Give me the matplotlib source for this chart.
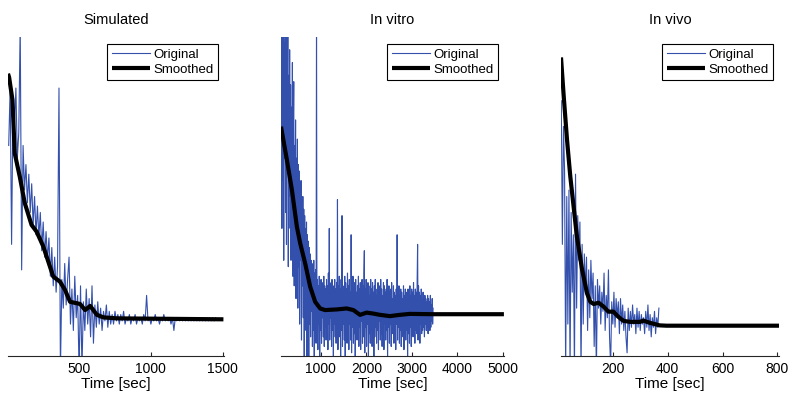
import numpy as np
import matplotlib
matplotlib.use("Agg")
import matplotlib.pyplot as plt

plt.rcParams['font.family'] = ['Liberation Sans', 'DejaVu Sans']

titles = ["Simulated", "In vitro", "In vivo"]
xlabel = "Time [sec]"
legend_labels = ["Original", "Smoothed"]

# ---------------- Simulated ----------------
sim_orig = [66, 84, 35, 80, 72, 84, 62, 70, 104, 27,
            66, 52, 60, 48, 57, 45, 54, 41, 50, 38,
            47, 37, 45, 33, 42, 31, 39, 30, 37, 25,
            34, 22, 31, 20, 28, 84, -5, 24, 15, 29,
            16, 24, 31, 10, 21, 8, 25, 12, 19, -5,
            22, -4, 17, 8, 21, 10, 18, 6, 22, 4,
            16, 9, 17, 10, 15, 8, 14, 11, 16, 9,
            14, 10, 13, 10, 14, 11, 13, 10, 13, 11,
            14, 10, 12, 11, 13, 10, 12, 11, 13, 10,
            12, 11, 12, 10, 13, 11, 19, 11, 12, 10,
            12, 11, 13, 11, 12, 10, 12, 11, 13, 11,
            12, 11, 12, 10, 12, 8, 12, 11, 12, 11,
            12, 11, 12, 11, 12, 11, 12, 11, 12, 11,
            12, 11, 12, 11, 12, 11, 12, 11, 12, 11,
            12, 11, 12, 11, 12]
sim_orig_t = np.linspace(10, 1450, len(sim_orig))
sim_smooth_t = [5, 13, 36, 52, 87, 122, 169, 204, 251, 320, 367, 402, 437,
                507, 542, 577, 624, 670, 763, 1505]
sim_smooth = [88.5, 87.3, 80.3, 63.5, 56.2, 47.9, 41.1, 39.0, 34.3, 24.9, 23.3,
              20.7, 17.0, 16.3, 14.4, 15.7, 12.9, 12.1, 11.8, 11.5]

# ---------------- In vitro ----------------
vitro_orig = [72, 110, 40, 105, 55, 112, 30, 98, 62, 108, 45, 110, 35, 92, 58, 104, 28, 88, 50, 96,
              40, 85, 30, 78, 52, 92, 25, 70, 86, 22, 66, 45, 74, 18, 62, 38, 68, 15, 60, 28,
              58, 10, 52, 30, 55, 5, 48, 22, 50, 12, 46, 0, 44, 18, 40, 8, 42, -2, 38, 15,
              36, -2, 34, 10, 32, 6, 30, 14, 29, 3, 28, 8, 30, -3, 26, 12, 27, 4, 110, 6,
              24, 2, 22, 10, 25, -2, 21, 8, 24, 4, 20, 12, 23, 6, 25, 3, 22, 9, 21, 5,
              24, 8, 22, 2, 26, 10, 40, 5, 21, 12, 23, 3, 24, 8, 20, -1, 22, 10, 24, 6,
              21, 4, 23, 9, 49, 2, 22, 11, 25, 6, 21, -2, 24, 8, 44, 3, 22, 10, 20, 5,
              25, -1, 23, 9, 21, 4, 26, 8, 22, 2, 24, 10, 20, 5, 38, 1, 22, 9, 25, 4,
              21, 7, 23, -2, 24, 10, 20, 5, 22, 8, 25, 3, 21, 9, 23, 2, 20, 11, 24, 4,
              22, 6, 26, 33, 1, 21, 9, 24, 3, 20, 10, 23, -1, 22, 7, 19, 4, 24, 8, 21,
              3, 23, 10, 20, -2, 22, 6, 24, 9, 19, 4, 21, 8, 23, 2, 20, 11, 22, 5, 24,
              7, 21, 3, 19, 9, 23, 2, 22, 10, 20, 5, 21, 8, 24, 0, 19, 9, 22, 4, 20,
              10, 21, 3, 23, 7, 18, 9, 22, 4, 20, 8, 19, 2, 21, 10, 38, 5, 20, 9, 22,
              4, 19, 8, 21, 3, 20, 10, 18, 6, 22, 2, 19, 9, 21, 5, 20, 8, 18, 0, 21,
              7, 20, 4, 22, 9, 19, 3, 21, 8, 20, 6, 23, 10, 19, 4, 21, 8, 20, 7, 24,
              35, 5, 22, 9, 20, 4, 19, 10, 21, 7, 18, 8, 20, 9, 17, 6, 19, 10, 18, 8,
              17, 9, 19, 7, 18, 10, 17, 8, 19, 9, 16, 11, 18, 10, 15]
vitro_orig_t = np.linspace(125, 3465, len(vitro_orig))
vitro_smooth_t = [125, 255, 365, 474, 547, 656, 766, 875, 985, 1094, 1349, 1568,
                  1714, 1860, 2006, 2151, 2298, 2516, 2735, 2954, 3464, 5020]
vitro_smooth = [71.9, 61.4, 52.0, 40.5, 35.3, 29.0, 21.7, 17.0, 14.9, 14.4, 14.6,
                14.9, 14.4, 12.9, 13.6, 13.3, 12.9, 12.5, 12.9, 13.2, 13.1, 13.1]

# ---------------- In vivo ----------------
vivo_orig = [80, 35, 72, 58, -5, 50, 10, 52, -5, 45,
             20, 38, -5, 57, 15, 44, 30, 42, -5, 35,
             10, 32, 20, 31, 8, 27, 12, 30, 18, 26,
             3, 22, -5, 24, 15, 22, 10, 20, 14, 26,
             8, 19, 12, 27, 6, -3, 17, 10, 20, 9,
             18, 12, 17, 7, 18, 10, 16, 8, 14, 6,
             1, 15, 8, 14, 9, 16, 10, 13, 7, 15,
             9, 14, 8, 13, 10, 12, 7, 14, 9, 16,
             8, 13, 6, 12, 9, 14, 7, 12, 9, 15]
vivo_orig_t = np.linspace(12, 368, len(vivo_orig))
vivo_smooth_t = [11, 21, 33, 45, 57, 69, 88, 106, 118, 130, 148, 166, 184, 202,
                 220, 239, 263, 299, 311, 335, 371, 396, 806]
vivo_smooth = [93.6, 81.3, 67.7, 56.2, 46.8, 37.4, 27.0, 19.6, 17.0, 16.3, 16.7,
               15.5, 13.9, 13.9, 12.3, 11.0, 10.7, 10.7, 11.1, 10.4, 9.6, 9.5, 9.5]

panels = [
    (sim_orig_t, sim_orig, sim_smooth_t, sim_smooth, (5, 1509), [500, 1000, 1500]),
    (vitro_orig_t, vitro_orig, vitro_smooth_t, vitro_smooth, (125, 5022), [1000, 2000, 3000, 4000, 5000]),
    (vivo_orig_t, vivo_orig, vivo_smooth_t, vivo_smooth, (11, 806), [200, 400, 600, 800]),
]

W, H = 788, 394
fig = plt.figure(figsize=(W / 100, H / 100), dpi=100)
lefts = [8, 281, 561]
widths = [216, 223, 218]
top_px, bot_px = 37, 356

blue = '#3350ad'
for i, (ot, ov, st, sv, xl, ticks) in enumerate(panels):
    ax = fig.add_axes([lefts[i] / W, 1 - bot_px / H, widths[i] / W, (bot_px - top_px) / H])
    ax.plot(ot, ov, color=blue, lw=0.8, label=legend_labels[0])
    ax.plot(st, sv, color='black', lw=3.0, label=legend_labels[1], solid_capstyle='butt')
    ax.set_xlim(*xl)
    ax.set_ylim(0, 100)
    ax.set_xticks(ticks)
    ax.set_yticks([])
    for s in ['left', 'top', 'right']:
        ax.spines[s].set_visible(False)
    ax.spines['bottom'].set_linewidth(0.8)
    ax.spines['bottom'].set_color('#262626')
    ax.tick_params(axis='x', direction='in', length=3, width=0.8, pad=4,
                   labelsize=10, colors='#262626', labelcolor='black')
    ax.set_title(titles[i], fontsize=10.5, pad=9)
    ax.set_xlabel(xlabel, fontsize=11, labelpad=1)
    leg = ax.legend(loc='upper right', bbox_to_anchor=(1 - 6 / widths[i], 1 - 7 / (bot_px - top_px)),
                    fontsize=9.5, frameon=True, fancybox=False, framealpha=1,
                    edgecolor='black', handlelength=2.9, handletextpad=0.25,
                    borderpad=0.35, labelspacing=0.2, borderaxespad=0)
    leg.get_frame().set_linewidth(0.8)

fig.savefig('out.png', dpi=100)
